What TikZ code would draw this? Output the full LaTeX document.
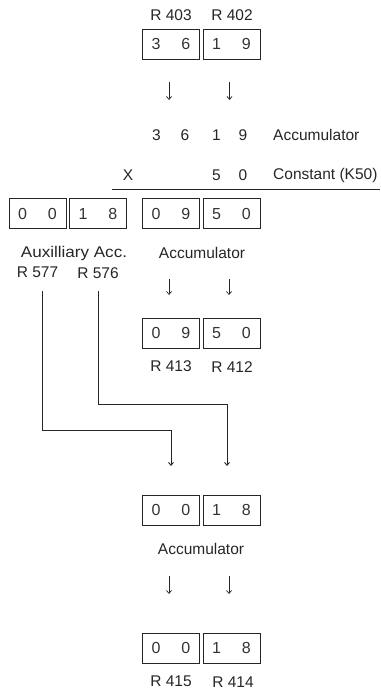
\documentclass[tikz,border=0pt]{standalone}
\usepackage{fontspec}
\setmainfont{Liberation Sans}
\usetikzlibrary{arrows.meta}
\newcommand\regtxt[2]{#1\hspace{21pt}#2}
\tikzset{
  reg/.style={draw=black!85, line width=0.8pt, minimum width=57pt, minimum height=30pt,
    inner sep=0pt, font=\fontsize{16}{18}\selectfont, text=black!80},
  lbl/.style={font=\fontsize{15.5}{18}\selectfont, text=black!85, inner sep=0pt},
  dn/.style={line width=0.7pt, draw=black!85, -{Straight Barb[length=3pt,width=5pt]}},
  wire/.style={line width=0.9pt, draw=black!85},
}
\begin{document}
\begin{tikzpicture}[x=1pt,y=-1pt]
\useasboundingbox (0,0) rectangle (380,692);
% row 1
\node[lbl] (l403) at (171,15) {R 403};
\node[lbl] (l402) at (232,15) {R 402};
\node[reg] (b403) at (171,44) {\regtxt{3}{6}};
\node[reg] (b402) at (231.5,44) {\regtxt{1}{9}};
\coordinate (a1s) at (169,82); \coordinate (a1e) at (169,100);
\coordinate (a2s) at (229.5,82); \coordinate (a2e) at (229.5,100);
\draw[dn] (a1s) -- (a1e);
\draw[dn] (a2s) -- (a2e);
% row 2 digits
\node[lbl] (d1) at (156.5,135) {3};
\node[lbl] (d2) at (185,135) {6};
\node[lbl] (d3) at (216.5,135) {1};
\node[lbl] (d4) at (243,135) {9};
\node[lbl,anchor=west] (acc1) at (273,135) {Accumulator};
\node[lbl] (x) at (128,175) {X};
\node[lbl] (d5) at (216.5,175) {5};
\node[lbl] (d6) at (243,175) {0};
\node[lbl,anchor=west] (const) at (273,175) {Constant (K50)};
\coordinate (hl1) at (112,189); \coordinate (hl2) at (380,189);
\draw[line width=0.9pt, draw=black!85] (hl1) -- (hl2);
% row 3
\node[reg] (b577) at (37.5,213.5) {\regtxt{0}{0}};
\node[reg] (b576) at (98,213.5) {\regtxt{1}{8}};
\node[reg] (c1) at (171,213.5) {\regtxt{0}{9}};
\node[reg] (c2) at (231.5,213.5) {\regtxt{5}{0}};
\node[lbl] (aux) at (74,253) {\scalebox{1.1}[1]{Auxilliary Acc.}};
\node[lbl] (l577) at (37.5,272) {R 577};
\node[lbl] (l576) at (98,273) {R 576};
\node[lbl] (acc2) at (202,253) {Accumulator};
\coordinate (a3s) at (169,279); \coordinate (a3e) at (169,295);
\coordinate (a4s) at (229,279); \coordinate (a4e) at (229,295);
\draw[dn] (a3s) -- (a3e);
\draw[dn] (a4s) -- (a4e);
% row 4
\node[reg] (b413) at (171,333) {\regtxt{0}{9}};
\node[reg] (b412) at (231.5,333) {\regtxt{5}{0}};
\node[lbl] (l413) at (171,366) {R 413};
\node[lbl] (l412) at (232,367) {R 412};
% connectors
\coordinate (s577) at (42,291);
\coordinate (s576) at (98.5,291);
\coordinate (k1) at (171,430);
\coordinate (k2) at (227,404);
\coordinate (t1) at (171,466);
\coordinate (t2) at (227,466);
\draw[wire] (s577) |- (k1);
\draw[dn, line width=0.9pt] (k1) -- (t1);
\draw[wire] (s576) |- (k2);
\draw[dn, line width=0.9pt] (k2) -- (t2);
% row 5
\node[reg] (e1) at (171,510) {\regtxt{0}{0}};
\node[reg] (e2) at (231.5,510) {\regtxt{1}{8}};
\node[lbl] (acc3) at (201,549) {Accumulator};
\coordinate (a5s) at (169,576); \coordinate (a5e) at (169,594);
\coordinate (a6s) at (229,576); \coordinate (a6e) at (229,594);
\draw[dn] (a5s) -- (a5e);
\draw[dn] (a6s) -- (a6e);
% row 6
\node[reg] (b415) at (171,648) {\regtxt{0}{0}};
\node[reg] (b414) at (231.5,648) {\regtxt{1}{8}};
\node[lbl] (l415) at (171,681) {R 415};
\node[lbl] (l414) at (233,682) {R 414};
\end{tikzpicture}
\end{document}
